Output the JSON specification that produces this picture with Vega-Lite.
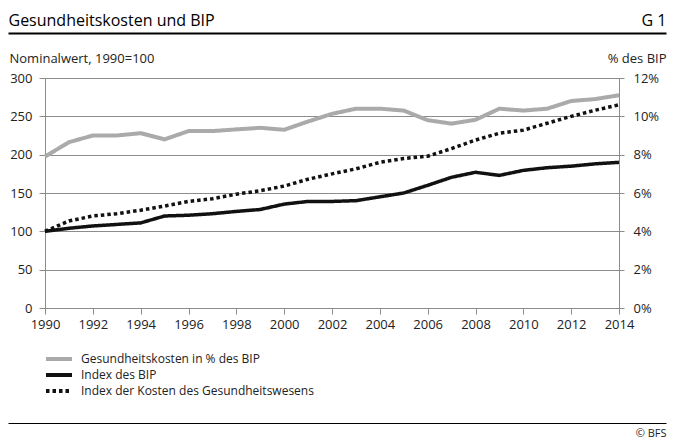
{
  "$schema": "https://vega.github.io/schema/vega-lite/v6.json",
  "width": 574,
  "height": 230,
  "autosize": {"type": "none"},
  "padding": {"left": 45, "top": 78, "right": 57, "bottom": 138},
  "background": "white",
  "config": {
    "font": "Open Sans",
    "view": {"stroke": null},
    "axis": {
      "labelFont": "Open Sans",
      "titleFont": "Open Sans",
      "labelColor": "#222",
      "titleColor": "#222",
      "domainColor": "#8c8c8c",
      "tickColor": "#8c8c8c",
      "gridColor": "#8c8c8c",
      "labelFontSize": 13,
      "titleFontSize": 13,
      "titleFontWeight": "normal",
      "labelLimit": 0,
      "titleLimit": 0
    },
    "legend": {"labelFont": "Open Sans", "labelLimit": 0}
  },
  "datasets": {
    "main": [
      {"jahr": 1990, "serie": "Gesundheitskosten in % des BIP", "wert": 7.9},
      {"jahr": 1991, "serie": "Gesundheitskosten in % des BIP", "wert": 8.65},
      {"jahr": 1992, "serie": "Gesundheitskosten in % des BIP", "wert": 9.0},
      {"jahr": 1993, "serie": "Gesundheitskosten in % des BIP", "wert": 9.0},
      {"jahr": 1994, "serie": "Gesundheitskosten in % des BIP", "wert": 9.12},
      {"jahr": 1995, "serie": "Gesundheitskosten in % des BIP", "wert": 8.8},
      {"jahr": 1996, "serie": "Gesundheitskosten in % des BIP", "wert": 9.23},
      {"jahr": 1997, "serie": "Gesundheitskosten in % des BIP", "wert": 9.23},
      {"jahr": 1998, "serie": "Gesundheitskosten in % des BIP", "wert": 9.32},
      {"jahr": 1999, "serie": "Gesundheitskosten in % des BIP", "wert": 9.4},
      {"jahr": 2000, "serie": "Gesundheitskosten in % des BIP", "wert": 9.3},
      {"jahr": 2001, "serie": "Gesundheitskosten in % des BIP", "wert": 9.73},
      {"jahr": 2002, "serie": "Gesundheitskosten in % des BIP", "wert": 10.13},
      {"jahr": 2003, "serie": "Gesundheitskosten in % des BIP", "wert": 10.4},
      {"jahr": 2004, "serie": "Gesundheitskosten in % des BIP", "wert": 10.4},
      {"jahr": 2005, "serie": "Gesundheitskosten in % des BIP", "wert": 10.3},
      {"jahr": 2006, "serie": "Gesundheitskosten in % des BIP", "wert": 9.8},
      {"jahr": 2007, "serie": "Gesundheitskosten in % des BIP", "wert": 9.62},
      {"jahr": 2008, "serie": "Gesundheitskosten in % des BIP", "wert": 9.82},
      {"jahr": 2009, "serie": "Gesundheitskosten in % des BIP", "wert": 10.4},
      {"jahr": 2010, "serie": "Gesundheitskosten in % des BIP", "wert": 10.3},
      {"jahr": 2011, "serie": "Gesundheitskosten in % des BIP", "wert": 10.4},
      {"jahr": 2012, "serie": "Gesundheitskosten in % des BIP", "wert": 10.8},
      {"jahr": 2013, "serie": "Gesundheitskosten in % des BIP", "wert": 10.9},
      {"jahr": 2014, "serie": "Gesundheitskosten in % des BIP", "wert": 11.1},
      {"jahr": 1990, "serie": "Index des BIP", "wert": 100},
      {"jahr": 1991, "serie": "Index des BIP", "wert": 104},
      {"jahr": 1992, "serie": "Index des BIP", "wert": 107},
      {"jahr": 1993, "serie": "Index des BIP", "wert": 109},
      {"jahr": 1994, "serie": "Index des BIP", "wert": 111},
      {"jahr": 1995, "serie": "Index des BIP", "wert": 120},
      {"jahr": 1996, "serie": "Index des BIP", "wert": 121},
      {"jahr": 1997, "serie": "Index des BIP", "wert": 123},
      {"jahr": 1998, "serie": "Index des BIP", "wert": 126},
      {"jahr": 1999, "serie": "Index des BIP", "wert": 128.5},
      {"jahr": 2000, "serie": "Index des BIP", "wert": 135.5},
      {"jahr": 2001, "serie": "Index des BIP", "wert": 139},
      {"jahr": 2002, "serie": "Index des BIP", "wert": 139},
      {"jahr": 2003, "serie": "Index des BIP", "wert": 140},
      {"jahr": 2004, "serie": "Index des BIP", "wert": 145},
      {"jahr": 2005, "serie": "Index des BIP", "wert": 150},
      {"jahr": 2006, "serie": "Index des BIP", "wert": 160},
      {"jahr": 2007, "serie": "Index des BIP", "wert": 170.5},
      {"jahr": 2008, "serie": "Index des BIP", "wert": 177},
      {"jahr": 2009, "serie": "Index des BIP", "wert": 173},
      {"jahr": 2010, "serie": "Index des BIP", "wert": 179.5},
      {"jahr": 2011, "serie": "Index des BIP", "wert": 183},
      {"jahr": 2012, "serie": "Index des BIP", "wert": 185},
      {"jahr": 2013, "serie": "Index des BIP", "wert": 188},
      {"jahr": 2014, "serie": "Index des BIP", "wert": 190},
      {"jahr": 1990, "serie": "Index der Kosten des Gesundheitswesens", "wert": 100},
      {"jahr": 1991, "serie": "Index der Kosten des Gesundheitswesens", "wert": 113.5},
      {"jahr": 1992, "serie": "Index der Kosten des Gesundheitswesens", "wert": 120},
      {"jahr": 1993, "serie": "Index der Kosten des Gesundheitswesens", "wert": 123},
      {"jahr": 1994, "serie": "Index der Kosten des Gesundheitswesens", "wert": 127.5},
      {"jahr": 1995, "serie": "Index der Kosten des Gesundheitswesens", "wert": 133},
      {"jahr": 1996, "serie": "Index der Kosten des Gesundheitswesens", "wert": 139},
      {"jahr": 1997, "serie": "Index der Kosten des Gesundheitswesens", "wert": 142.5},
      {"jahr": 1998, "serie": "Index der Kosten des Gesundheitswesens", "wert": 148.5},
      {"jahr": 1999, "serie": "Index der Kosten des Gesundheitswesens", "wert": 153},
      {"jahr": 2000, "serie": "Index der Kosten des Gesundheitswesens", "wert": 159},
      {"jahr": 2001, "serie": "Index der Kosten des Gesundheitswesens", "wert": 168},
      {"jahr": 2002, "serie": "Index der Kosten des Gesundheitswesens", "wert": 175},
      {"jahr": 2003, "serie": "Index der Kosten des Gesundheitswesens", "wert": 181.5},
      {"jahr": 2004, "serie": "Index der Kosten des Gesundheitswesens", "wert": 190},
      {"jahr": 2005, "serie": "Index der Kosten des Gesundheitswesens", "wert": 195},
      {"jahr": 2006, "serie": "Index der Kosten des Gesundheitswesens", "wert": 198},
      {"jahr": 2007, "serie": "Index der Kosten des Gesundheitswesens", "wert": 208},
      {"jahr": 2008, "serie": "Index der Kosten des Gesundheitswesens", "wert": 219},
      {"jahr": 2009, "serie": "Index der Kosten des Gesundheitswesens", "wert": 228},
      {"jahr": 2010, "serie": "Index der Kosten des Gesundheitswesens", "wert": 232},
      {"jahr": 2011, "serie": "Index der Kosten des Gesundheitswesens", "wert": 241},
      {"jahr": 2012, "serie": "Index der Kosten des Gesundheitswesens", "wert": 250},
      {"jahr": 2013, "serie": "Index der Kosten des Gesundheitswesens", "wert": 258},
      {"jahr": 2014, "serie": "Index der Kosten des Gesundheitswesens", "wert": 265}
    ],
    "deko": [{"k": 0}, {"k": 1}]
  },
  "layer": [
    {
      "data": {"name": "main"},
      "layer": [
        {
          "transform": [{"filter": "datum.serie != 'Gesundheitskosten in % des BIP'"}],
          "mark": {"type": "line", "strokeWidth": 3.5},
          "encoding": {
            "x": {
              "field": "jahr",
              "type": "quantitative",
              "scale": {"domain": [1990, 2014], "nice": false, "zero": false},
              "axis": {
                "orient": "bottom",
                "title": null,
                "grid": false,
                "values": [1990, 1991, 1992, 1993, 1994, 1995, 1996, 1997, 1998, 1999, 2000, 2001, 2002, 2003, 2004, 2005, 2006, 2007, 2008, 2009, 2010, 2011, 2012, 2013, 2014],
                "format": "d",
                "labelExpr": "datum.value % 2 == 0 ? datum.label : ''",
                "labelFlush": false,
                "labelOverlap": false,
                "tickSize": 6,
                "labelPadding": 4
              }
            },
            "y": {
              "field": "wert",
              "type": "quantitative",
              "scale": {"domain": [0, 300], "nice": false},
              "axis": {
                "orient": "left",
                "values": [0, 50, 100, 150, 200, 250, 300],
                "grid": true,
                "tickSize": 6,
                "labelPadding": 7,
                "title": "Nominalwert, 1990=100",
                "titleAngle": 0,
                "titleAlign": "left",
                "titleBaseline": "alphabetic",
                "titleX": -36,
                "titleY": -16
              }
            },
            "color": {
              "field": "serie",
              "type": "nominal",
              "scale": {
                "domain": ["Gesundheitskosten in % des BIP", "Index des BIP", "Index der Kosten des Gesundheitswesens"],
                "range": ["#aaaaaa", "#111111", "#111111"]
              },
              "legend": {
                "title": null,
                "orient": "none",
                "legendX": 7,
                "legendY": 274,
                "direction": "vertical",
                "symbolType": "M-2.6,0H2.6",
                "symbolSize": 100,
                "symbolStrokeWidth": 4,
                "labelFontSize": 12,
                "labelColor": "#222",
                "labelOffset": 15,
                "rowPadding": 0,
                "padding": 0
              }
            },
            "strokeDash": {
              "field": "serie",
              "type": "nominal",
              "scale": {
                "domain": ["Gesundheitskosten in % des BIP", "Index des BIP", "Index der Kosten des Gesundheitswesens"],
                "range": [[1, 0], [1, 0], [3.5, 3]]
              },
              "legend": {
                "title": null,
                "orient": "none",
                "legendX": 7,
                "legendY": 274,
                "direction": "vertical",
                "symbolType": "M-2.6,0H2.6",
                "symbolSize": 100,
                "symbolStrokeWidth": 4,
                "labelFontSize": 12,
                "labelColor": "#222",
                "labelOffset": 15,
                "rowPadding": 0,
                "padding": 0
              }
            }
          }
        },
        {
          "transform": [{"filter": "datum.serie == 'Gesundheitskosten in % des BIP'"}],
          "mark": {"type": "line", "strokeWidth": 4},
          "encoding": {
            "x": {"field": "jahr", "type": "quantitative"},
            "y": {
              "field": "wert",
              "type": "quantitative",
              "scale": {"domain": [0, 12], "nice": false},
              "axis": {
                "orient": "right",
                "values": [0, 2, 4, 6, 8, 10, 12],
                "labelExpr": "datum.value + '%'",
                "grid": false,
                "tickSize": 5,
                "labelPadding": 9,
                "title": "% des BIP",
                "titleAngle": 0,
                "titleAlign": "right",
                "titleBaseline": "alphabetic",
                "titleX": 47,
                "titleY": -16
              }
            },
            "color": {"field": "serie", "type": "nominal"},
            "strokeDash": {"field": "serie", "type": "nominal"}
          }
        }
      ],
      "resolve": {"scale": {"y": "independent"}, "axis": {"y": "independent"}}
    },
    {
      "data": {"name": "deko"},
      "mark": {"type": "point", "opacity": 0},
      "encoding": {
        "x": {
          "field": "k",
          "type": "quantitative",
          "scale": {"domain": [0, 1], "range": [-37, 621], "nice": false, "zero": false},
          "axis": {
            "orient": "top",
            "offset": 45,
            "values": [0, 1],
            "domainColor": "#000000",
            "domainWidth": 2,
            "ticks": false,
            "tickSize": 0,
            "grid": false,
            "title": null,
            "labelFlush": false,
            "labelOverlap": false,
            "labelLimit": 0,
            "labelExpr": "datum.value == 0 ? 'Gesundheitskosten und BIP' : 'G 1'",
            "labelAlign": {"condition": {"test": "datum.value == 0", "value": "left"}, "value": "right"},
            "labelBaseline": "alphabetic",
            "labelPadding": 8,
            "labelFontSize": 16,
            "labelColor": "#000000"
          }
        }
      }
    },
    {
      "data": {"name": "deko"},
      "mark": {"type": "point", "opacity": 0},
      "encoding": {
        "x": {
          "field": "k",
          "type": "quantitative",
          "scale": {"domain": [0, 1], "range": [-37, 621], "nice": false, "zero": false},
          "axis": {
            "orient": "bottom",
            "offset": 115,
            "values": [1],
            "domainColor": "#000000",
            "domainWidth": 1,
            "ticks": false,
            "tickSize": 0,
            "grid": false,
            "title": null,
            "labelFlush": false,
            "labelOverlap": false,
            "labelExpr": "'© BFS'",
            "labelAlign": "right",
            "labelBaseline": "alphabetic",
            "labelPadding": 13,
            "labelFontSize": 11,
            "labelColor": "#222222"
          }
        }
      }
    }
  ],
  "resolve": {"scale": {"x": "independent"}, "axis": {"x": "independent"}}
}
